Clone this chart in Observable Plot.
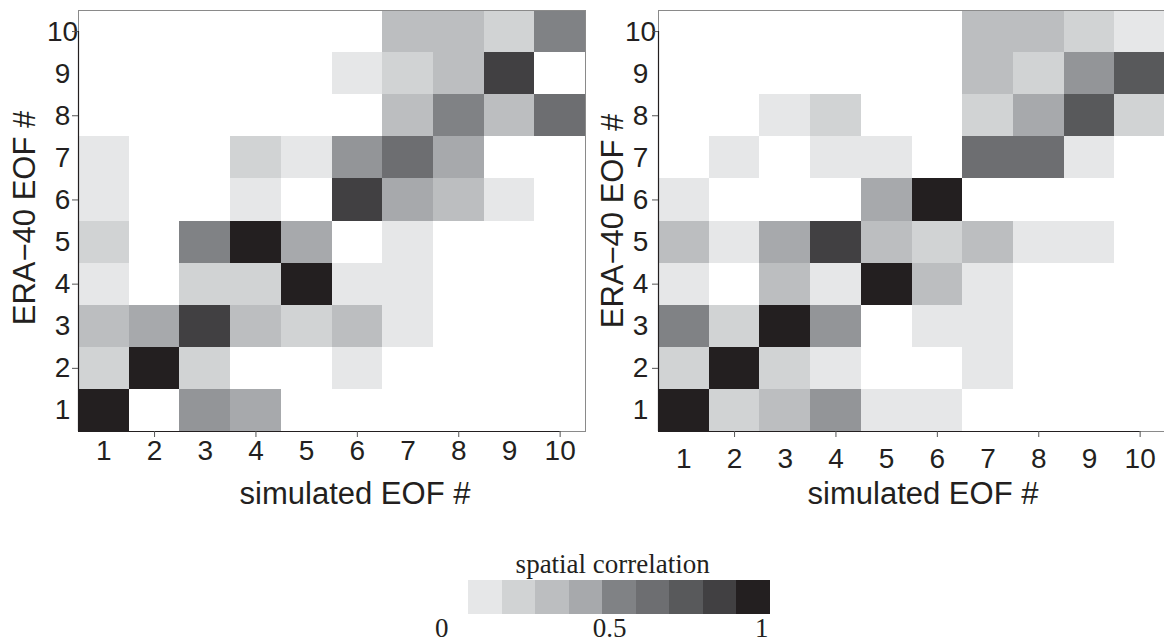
<!DOCTYPE html>
<html>
<head>
<meta charset="utf-8">
<script src="https://cdn.jsdelivr.net/npm/d3@7"></script>
<script src="https://cdn.jsdelivr.net/npm/@observablehq/plot@0.6"></script>
<style>
html, body { margin: 0; padding: 0; background: #fff; }
#wrap { position: relative; width: 1164px; height: 643px; overflow: hidden; background: #fff; }
.pane { position: absolute; }
.pane svg { max-width: none !important; }
</style>
</head>
<body>
<div id="wrap"></div>
<script>
// ---- data ----
const eofNumbers = [1, 2, 3, 4, 5, 6, 7, 8, 9, 10];
const evenTicks = [2, 4, 6, 8, 10];
const levelIds = [1, 2, 3, 4, 5, 6, 7, 8, 9, 10];
const grayLevels = ["#e6e7e8", "#d1d3d4", "#bcbec0", "#a7a9ac", "#939598",
                    "#808285", "#6d6e71", "#58595b", "#414042", "#231f20"];
const legendLevels = [1, 2, 3, 4, 6, 7, 8, 9, 10];
const legendBinStart = [0.1, 0.2, 0.3, 0.4, 0.5, 0.6, 0.7, 0.8, 0.9];
const legendTickValues = [0, 0.5, 1];
const legendTickLabels = ["0", "0.5", "1"];
const xTitle = "simulated EOF #";
const yTitle = "ERA\u221240 EOF #";
const legendTitle = "spatial correlation";

// rows: ERA-40 EOF 10 (top) down to 1; columns: simulated EOF 1..10; 0 = white
const leftLevels = [
  [0, 0, 0, 0, 0, 0, 3, 3, 2, 6],
  [0, 0, 0, 0, 0, 1, 2, 3, 9, 0],
  [0, 0, 0, 0, 0, 0, 3, 6, 3, 7],
  [1, 0, 0, 2, 1, 5, 7, 4, 0, 0],
  [1, 0, 0, 1, 0, 9, 4, 3, 1, 0],
  [2, 0, 6, 10, 4, 0, 1, 0, 0, 0],
  [1, 0, 2, 2, 10, 1, 1, 0, 0, 0],
  [3, 4, 9, 3, 2, 3, 1, 0, 0, 0],
  [2, 10, 2, 0, 0, 1, 0, 0, 0, 0],
  [10, 0, 5, 4, 0, 0, 0, 0, 0, 0]
];
const rightLevels = [
  [0, 0, 0, 0, 0, 0, 3, 3, 2, 1],
  [0, 0, 0, 0, 0, 0, 3, 2, 5, 8],
  [0, 0, 1, 2, 0, 0, 2, 4, 8, 2],
  [0, 1, 0, 1, 1, 0, 7, 7, 1, 0],
  [1, 0, 0, 0, 4, 10, 0, 0, 0, 0],
  [3, 1, 4, 9, 3, 2, 3, 1, 1, 0],
  [1, 0, 3, 1, 10, 3, 1, 0, 0, 0],
  [6, 2, 10, 5, 0, 1, 1, 0, 0, 0],
  [2, 10, 2, 1, 0, 0, 1, 0, 0, 0],
  [10, 2, 3, 5, 1, 1, 0, 0, 0, 0]
];

function toCells(levels) {
  const out = [];
  levels.forEach((row, r) => row.forEach((lev, c) => {
    if (lev > 0) out.push({era: 10 - r, sim: c + 1, level: lev});
  }));
  return out;
}

const sans = "'Liberation Sans', Arial, Helvetica, sans-serif";
const serif = "'Liberation Serif', 'Times New Roman', serif";
const ink = "#231f20";

function panel(levels, o) {
  const cells = toCells(levels);
  return Plot.plot({
    width: o.width, height: 520,
    marginLeft: 78, marginRight: o.marginRight, marginTop: 10, marginBottom: 89,
    x: {type: "linear", domain: [0.5, 10.5], axis: null},
    y: {type: "linear", domain: [0.5, 10.5], axis: null},
    color: {type: "ordinal", domain: levelIds, range: grayLevels},
    style: {fontFamily: sans, color: ink, background: "transparent", overflow: "visible", maxWidth: "none"},
    marks: [
      Plot.rect(cells, {
        x1: d => d.sim - 0.5, x2: d => d.sim + 0.5,
        y1: d => d.era - 0.5, y2: d => d.era + 0.5,
        fill: "level", shapeRendering: "crispEdges"
      }),
      Plot.frame({stroke: "#8a8a8a", strokeWidth: 1}),
      Plot.ruleX([0.5], {y1: 0.5, y2: 10, stroke: ink, strokeWidth: 1.2}),
      Plot.ruleY([0.5], {x1: 0.5, x2: 10, stroke: ink, strokeWidth: 1.2}),
      Plot.axisX({ticks: eofNumbers, tickSize: 0, tickPadding: o.xPad, fontSize: 28, fill: ink, label: null, tickFormat: d => String(d)}),
      Plot.axisX({ticks: evenTicks, tickSize: 6, fill: "none", stroke: "#555", label: null}),
      Plot.axisY({ticks: eofNumbers, tickSize: 0, tickPadding: o.yPad, textAnchor: "middle", fontSize: 28, fill: ink, label: null, tickFormat: d => String(d)}),
      Plot.axisY({ticks: evenTicks, tickSize: 6, fill: "none", stroke: "#555", label: null}),
      Plot.text([xTitle], {frameAnchor: "bottom", lineAnchor: "bottom", textAnchor: "middle", dx: o.xTitleDx, dy: 72, fontSize: 31, fill: ink}),
      Plot.text([yTitle], {frameAnchor: "left", textAnchor: "middle", rotate: -90, dx: o.yTitleDx, dy: o.yTitleDy, fontSize: 31, fill: ink})
    ]
  });
}

function legend() {
  const bins = legendLevels.map((lev, i) => ({level: lev, lo: legendBinStart[i], hi: legendBinStart[i] + 0.1}));
  const labs = legendTickValues.map((v, i) => ({v, label: legendTickLabels[i]}));
  return Plot.plot({
    width: 400, height: 103,
    marginLeft: 34.4, marginRight: 30, marginTop: 40, marginBottom: 29,
    x: {type: "linear", domain: [0, 1], axis: null},
    color: {type: "ordinal", domain: levelIds, range: grayLevels},
    style: {fontFamily: serif, color: ink, background: "transparent", overflow: "visible", maxWidth: "none"},
    marks: [
      Plot.rect(bins, {x1: "lo", x2: "hi", fill: "level", shapeRendering: "crispEdges"}),
      Plot.text([legendTitle], {x: [0.5], frameAnchor: "top", lineAnchor: "bottom", dx: 10, dy: -8, fontSize: 27, fill: ink}),
      Plot.text(labs.filter(d => d.v === 0), {x: "v", text: "label", frameAnchor: "bottom", lineAnchor: "top", textAnchor: "start", dy: 3, fontSize: 27, fill: ink}),
      Plot.text(labs.filter(d => d.v === 0.5), {x: "v", text: "label", frameAnchor: "bottom", lineAnchor: "top", textAnchor: "middle", dx: 7, dy: 3, fontSize: 27, fill: ink}),
      Plot.text(labs.filter(d => d.v === 1), {x: "v", text: "label", frameAnchor: "bottom", lineAnchor: "top", textAnchor: "end", dx: -2, dy: 3, fontSize: 27, fill: ink})
    ]
  });
}

const wrap = document.getElementById("wrap");
function place(node, left, top) {
  const div = document.createElement("div");
  div.className = "pane";
  div.style.left = left + "px";
  div.style.top = top + "px";
  div.appendChild(node);
  wrap.appendChild(div);
}
place(panel(leftLevels, {width: 590, marginRight: 5, xPad: 9, yPad: 16, xTitleDx: 23, yTitleDx: -53, yTitleDy: -3}), 0, 0);
place(panel(rightLevels, {width: 585, marginRight: 0, xPad: 17, yPad: 18, xTitleDx: 11, yTitleDx: -45, yTitleDy: 0}), 580, 0);
place(legend(), 400, 540);
</script>
</body>
</html>
